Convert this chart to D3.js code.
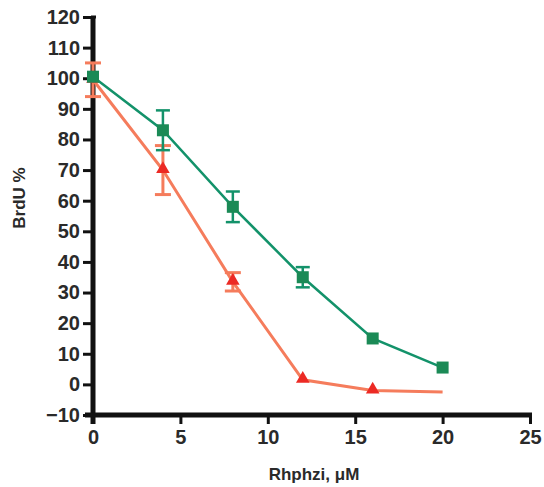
<!DOCTYPE html>
<html>
<head>
<meta charset="utf-8">
<script src="https://cdn.jsdelivr.net/npm/d3@7"></script>
<style>
  body { margin: 0; background: #fff; }
  svg { display: block; }
  text { font-family: "Liberation Sans", Arial, sans-serif; font-weight: bold; }
</style>
</head>
<body>
<svg id="chart" width="544" height="487"></svg>
<script>
// concentrations (uM)
const doses = [0, 4, 8, 12, 16, 20];
// green series (squares)
const greenVals = [100.5, 83, 58, 35, 15, 5.5];
const greenErr = [0, 6.5, 5, 3.3, 0, 0];
// red series (triangles), last point has no marker
const redVals = [99.5, 70, 33.5, 1.5, -2, -2.5];
const redErr = [5.5, 8, 3, 0, 0, 0];
const redMarker = [true, true, true, true, true, false];

const xTicks = [0, 5, 10, 15, 20, 25];
const yTicks = [-10, 0, 10, 20, 30, 40, 50, 60, 70, 80, 90, 100, 110, 120];

const svg = d3.select("#chart");
const x = d3.scaleLinear().domain([0, 25]).range([93, 530]);
const y = d3.scaleLinear().domain([-10, 120]).range([415, 17]);

const axisColor = "#111";
const labelColor = "#2a2a2a";

// y axis
const yAxis = svg.append("g")
    .attr("transform", `translate(${x(0)},0)`)
    .call(d3.axisLeft(y).tickValues(yTicks).tickSize(10).tickPadding(3).tickFormat(d => d < 0 ? "\u2212" + Math.abs(d) : d));
yAxis.select(".domain").remove();
yAxis.selectAll(".tick line").attr("stroke", axisColor).attr("stroke-width", 3);
yAxis.selectAll(".tick text").attr("fill", labelColor).style("font-size", "20px").style("font-family", "Liberation Sans, Arial").style("font-weight", "bold");

// x axis
const xAxis = svg.append("g")
    .attr("transform", `translate(0,${y(-10)})`)
    .call(d3.axisBottom(x).tickValues(xTicks).tickSize(9).tickPadding(6));
xAxis.select(".domain").remove();
xAxis.selectAll(".tick line").attr("stroke", axisColor).attr("stroke-width", 3);
xAxis.selectAll(".tick text").attr("fill", labelColor).style("font-size", "20px").style("font-family", "Liberation Sans, Arial").style("font-weight", "bold");

// thick axis lines
svg.append("line").attr("x1", x(0)).attr("x2", x(0)).attr("y1", y(120) - 1).attr("y2", y(-10) + 9)
    .attr("stroke", axisColor).attr("stroke-width", 5);
svg.append("line").attr("x1", x(0) - 8).attr("x2", x(25) + 2).attr("y1", y(-10)).attr("y2", y(-10))
    .attr("stroke", axisColor).attr("stroke-width", 5);
svg.append("line").attr("x1", x(0) - 2).attr("x2", x(0) + 3).attr("y1", y(120)).attr("y2", y(120))
    .attr("stroke", axisColor).attr("stroke-width", 3);

const redLine = "#f57c5c";
const redFill = "#ec2a24";
const greenLine = "#13926a";
const greenFill = "#1b8a56";

const line = d3.line().x(d => x(d[0])).y(d => y(d[1]));

function errorBars(vals, errs, color, width, cap) {
    const g = svg.append("g");
    doses.forEach((d, i) => {
        if (!errs[i]) return;
        const cx = x(d), top = y(vals[i] + errs[i]), bot = y(vals[i] - errs[i]);
        g.append("line").attr("x1", cx).attr("x2", cx).attr("y1", top).attr("y2", bot)
            .attr("stroke", color).attr("stroke-width", width);
        [top, bot].forEach(yy => g.append("line").attr("x1", cx - cap).attr("x2", cx + cap)
            .attr("y1", yy).attr("y2", yy).attr("stroke", color).attr("stroke-width", width));
    });
}

// red series
errorBars(redVals, redErr, redLine, 3, 8);
svg.append("path").datum(doses.map((d, i) => [d, redVals[i]]))
    .attr("d", line).attr("fill", "none").attr("stroke", redLine).attr("stroke-width", 3);
svg.append("g").selectAll("path")
    .data(doses.map((d, i) => ({ d, v: redVals[i], m: redMarker[i] })).filter(p => p.m))
    .join("path")
    .attr("d", d3.symbol().type(d3.symbolTriangle).size(80))
    .attr("transform", p => `translate(${x(p.d)},${y(p.v) - 1})`)
    .attr("fill", redFill);

// green series
errorBars(greenVals, greenErr, greenLine, 2.5, 7);
svg.append("path").datum(doses.map((d, i) => [d, greenVals[i]]))
    .attr("d", line).attr("fill", "none").attr("stroke", greenLine).attr("stroke-width", 2.5);
svg.append("g").selectAll("rect")
    .data(doses.map((d, i) => ({ d, v: greenVals[i] })))
    .join("rect")
    .attr("x", p => x(p.d) - 6).attr("y", p => y(p.v) - 6)
    .attr("width", 12).attr("height", 12)
    .attr("fill", greenFill);

// axis titles
svg.append("text")
    .attr("transform", `translate(25,198) rotate(-90)`)
    .attr("text-anchor", "middle")
    .attr("fill", labelColor)
    .style("font-size", "17px")
    .text("BrdU %");
svg.append("text")
    .attr("x", 314).attr("y", 480)
    .attr("text-anchor", "middle")
    .attr("fill", labelColor)
    .style("font-size", "17px")
    .text("Rhphzi, \u03bcM");
</script>
</body>
</html>
